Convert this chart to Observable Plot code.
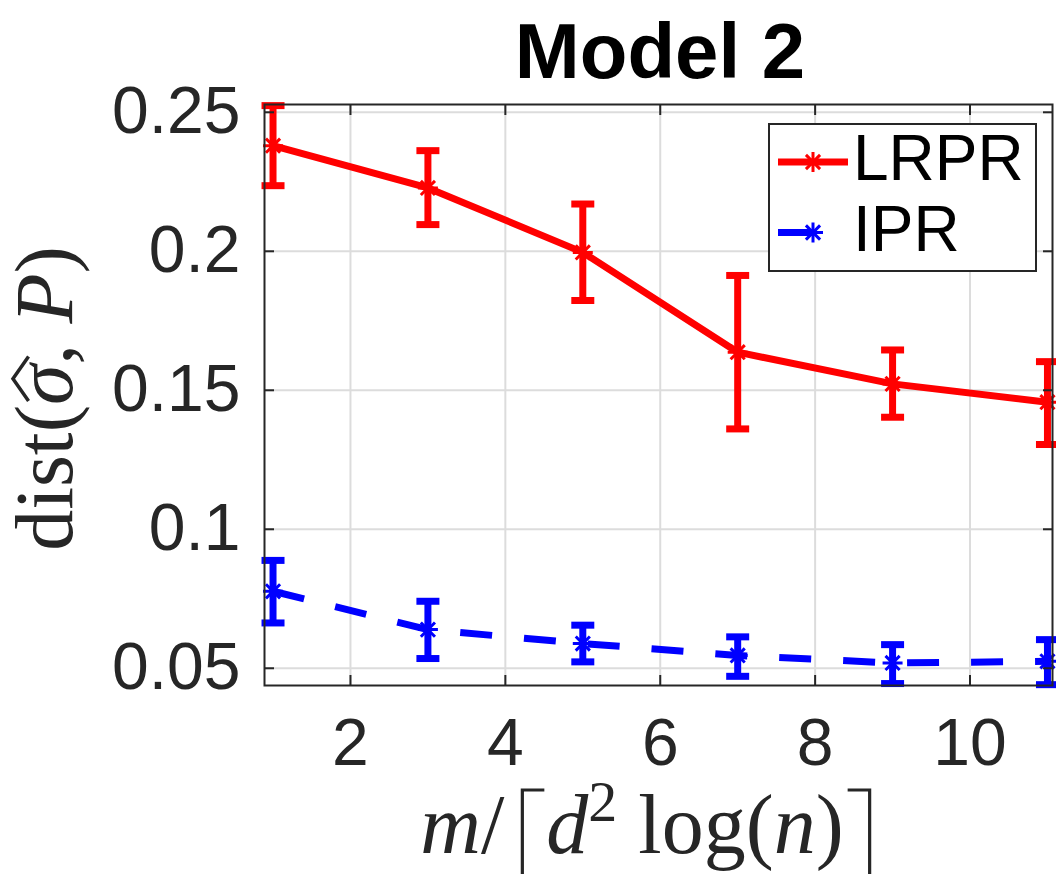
<!DOCTYPE html>
<html><head><meta charset="utf-8">
<script src="https://cdn.jsdelivr.net/npm/d3@7"></script>
<script src="https://cdn.jsdelivr.net/npm/@observablehq/plot@0.6"></script>
<style>html,body{margin:0;padding:0;background:#fff}#chart{width:1056px;height:876px}</style>
</head><body><div id="chart"></div>
<script>
// ---- data ----
const series = ["LRPR", "IPR"];
const colors = ["#ff0000", "#0000ff"];
const xValues = [1, 3, 5, 7, 9, 11];
const lrprMean = [0.2380, 0.2228, 0.1996, 0.1637, 0.1523, 0.1457];
const lrprLow  = [0.2236, 0.2096, 0.1823, 0.1361, 0.1403, 0.1305];
const lrprHigh = [0.2524, 0.2362, 0.2170, 0.1913, 0.1645, 0.1603];
const iprMean  = [0.0777, 0.0639, 0.0589, 0.0546, 0.0519, 0.0525];
const iprLow   = [0.0663, 0.0535, 0.0523, 0.0471, 0.0445, 0.0441];
const iprHigh  = [0.0888, 0.0741, 0.0655, 0.0613, 0.0585, 0.0603];
const xTicks = [2, 4, 6, 8, 10];
const xTickLabels = ["2", "4", "6", "8", "10"];
const yTicks = [0.05, 0.1, 0.15, 0.2, 0.25];
const yTickLabels = ["0.05", "0.1", "0.15", "0.2", "0.25"];
const titleText = "Model 2";

const rows = [];
xValues.forEach((x, i) => {
  rows.push({series: "LRPR", x, y: lrprMean[i], lo: lrprLow[i], hi: lrprHigh[i]});
  rows.push({series: "IPR", x, y: iprMean[i], lo: iprLow[i], hi: iprHigh[i]});
});
const lrprRows = rows.filter(d => d.series === "LRPR");
const iprRows = rows.filter(d => d.series === "IPR");

const axisColor = "#262626";
const sans = "'Liberation Sans', Arial, Helvetica, sans-serif";
const serif = "'Liberation Serif', 'DejaVu Serif', serif";
const capShape = {draw(context, l) { context.moveTo(0, 0); context.lineTo(0, -l); }};
// MATLAB-style '*' marker: plus + cross
const starSymbol = {draw(context, size) {
  const r = Math.sqrt(size / Math.PI);
  for (let k = 0; k < 4; k++) {
    const a = k * Math.PI / 4;
    context.moveTo(-r * Math.cos(a), -r * Math.sin(a));
    context.lineTo(r * Math.cos(a), r * Math.sin(a));
  }
}};

const chart = Plot.plot({
  width: 1056, height: 876,
  marginLeft: 264, marginRight: 4, marginTop: 104, marginBottom: 191,
  style: {fontFamily: sans, fontSize: "66px", color: axisColor, background: "white", overflow: "visible"},
  x: {domain: [0.89, 11.065]},
  y: {domain: [0.0438, 0.2528]},
  color: {domain: series, range: colors},
  marks: [
    Plot.gridX(xTicks, {stroke: "#dcdcdc", strokeOpacity: 1, strokeWidth: 2}),
    Plot.gridY(yTicks, {stroke: "#dcdcdc", strokeOpacity: 1, strokeWidth: 2}),
    Plot.line(lrprRows, {x: "x", y: "y", stroke: "series", strokeWidth: 7, strokeLinejoin: "miter"}),
    Plot.line(iprRows, {x: "x", y: "y", stroke: "series", strokeWidth: 7, strokeDasharray: "32,32", strokeLinecap: "butt"}),
    Plot.ruleX(rows, {x: "x", y1: "lo", y2: "hi", stroke: "series", strokeWidth: 7}),
    Plot.vector(rows, {x: "x", y: "hi", rotate: 90, length: 23, anchor: "middle", shape: capShape, stroke: "series", strokeWidth: 7, strokeLinecap: "butt"}),
    Plot.vector(rows, {x: "x", y: "lo", rotate: 90, length: 23, anchor: "middle", shape: capShape, stroke: "series", strokeWidth: 7, strokeLinecap: "butt"}),
    Plot.dot(rows, {x: "x", y: "y", symbol: starSymbol, r: 10, stroke: "series", strokeWidth: 3}),
    Plot.frame({stroke: axisColor, strokeWidth: 2}),
    Plot.axisX(xTicks, {anchor: "bottom", tickSize: -10, tickFormat: () => "", stroke: axisColor, strokeWidth: 2, label: null}),
    Plot.axisX(xTicks, {anchor: "top", tickSize: -10, tickFormat: () => "", stroke: axisColor, strokeWidth: 2, label: null}),
    Plot.axisY(yTicks, {anchor: "left", tickSize: -10, tickFormat: () => "", stroke: axisColor, strokeWidth: 2, label: null}),
    Plot.axisY(yTicks, {anchor: "right", tickSize: -10, tickFormat: () => "", stroke: axisColor, strokeWidth: 2, label: null}),
    Plot.axisX(xTicks, {anchor: "bottom", tickSize: 0, tickPadding: 33, tickFormat: (d, i) => xTickLabels[i], fill: axisColor, fontSize: 66, label: null}),
    Plot.axisY(yTicks, {anchor: "left", tickSize: 0, tickPadding: 24, tickFormat: (d, i) => yTickLabels[i], fill: axisColor, fontSize: 66, label: null})
  ]
});
document.getElementById("chart").appendChild(chart);

// ---- decorations: title, axis labels, legend ----
const svg = d3.select(chart);
const sx = chart.scale("x"), sy = chart.scale("y");
const fLeft = sx.range[0], fRight = sx.range[1], fTop = sy.range[1], fBottom = sy.range[0];
const cx = (fLeft + fRight) / 2, cy = (fTop + fBottom) / 2;

svg.append("text").attr("x", cx + 2).attr("y", fTop - 26)
  .attr("text-anchor", "middle").attr("font-family", sans).attr("font-weight", "bold")
  .attr("font-size", 78).attr("fill", "#000").text(titleText);

// y label: dist(σ̂, P)
const ylFont = 82;
const ylg = svg.append("g").attr("transform", `translate(${fLeft - 192},${cy + 4}) rotate(-90)`);
const yl = ylg.append("text").attr("text-anchor", "middle").attr("font-family", serif)
  .attr("font-size", ylFont).attr("fill", axisColor);
yl.append("tspan").text("dist(");
yl.append("tspan").attr("font-style", "italic").text("σ");
yl.append("tspan").text(", ");
yl.append("tspan").attr("font-style", "italic").text("P");
yl.append("tspan").text(")");
{
  const node = yl.node();
  const s = node.getStartPositionOfChar(5), e = node.getEndPositionOfChar(5);
  const x0 = s.x + 4, x1 = e.x + 8, base = -0.53 * ylFont, apex = -0.72 * ylFont;
  ylg.append("path").attr("d", `M${x0},${base}L${(x0 + x1) / 2},${apex}L${x1},${base}`)
    .attr("fill", "none").attr("stroke", axisColor).attr("stroke-width", 3.5).attr("stroke-linejoin", "miter");
}

// x label: m/⌈d^2 log(n)⌉  (ceiling brackets drawn as thin strokes over en-space placeholders)
const xlFont = 84, xlBase = fBottom + 168;
const xl = svg.append("text").attr("x", cx - 5).attr("y", xlBase)
  .attr("text-anchor", "middle").attr("font-family", serif).attr("font-size", xlFont).attr("fill", axisColor);
xl.append("tspan").attr("font-style", "italic").text("m");
xl.append("tspan").text("/\u2002");
xl.append("tspan").attr("font-style", "italic").text("d");
xl.append("tspan").attr("font-size", 58).attr("dy", -32).text("2");
xl.append("tspan").attr("dy", 32).text(" log(");
xl.append("tspan").attr("font-style", "italic").text("n");
xl.append("tspan").text(")\u2002");
{
  const node = xl.node();
  const n = node.getNumberOfChars();
  const lc = node.getStartPositionOfChar(2).x, rc = node.getStartPositionOfChar(n - 1).x;
  const yTopB = xlBase - 0.75 * xlFont, yBotB = xlBase + 0.25 * xlFont;
  svg.append("path").attr("d", `M${lc + 18},${yBotB}V${yTopB}H${lc + 40}M${rc + 4},${yTopB}H${rc + 26}V${yBotB}`)
    .attr("fill", "none").attr("stroke", axisColor).attr("stroke-width", 3.2);
}

// legend
const lg = svg.append("g").attr("transform", `translate(${fRight - 283},${fTop + 20})`);
lg.append("rect").attr("width", 267).attr("height", 147).attr("fill", "white")
  .attr("stroke", axisColor).attr("stroke-width", 2);
series.forEach((s, i) => {
  const ly = 38 + i * 70.5;
  lg.append("line").attr("x1", 9).attr("x2", 79).attr("y1", ly).attr("y2", ly)
    .attr("stroke", colors[i]).attr("stroke-width", 7)
    .attr("stroke-dasharray", i === 1 ? "35,100" : null);
  const r = 10;
  const g = lg.append("g").attr("transform", `translate(44,${ly})`).attr("stroke", colors[i]).attr("stroke-width", 3);
  for (let k = 0; k < 4; k++) {
    const ang = k * Math.PI / 4;
    g.append("line").attr("x1", -r * Math.cos(ang)).attr("y1", -r * Math.sin(ang))
      .attr("x2", r * Math.cos(ang)).attr("y2", r * Math.sin(ang));
  }
  lg.append("text").attr("x", 84).attr("y", ly + 18).attr("text-anchor", "start")
    .attr("font-family", sans).attr("font-size", 64).attr("fill", "#000").text(s);
});
</script>
</body></html>
